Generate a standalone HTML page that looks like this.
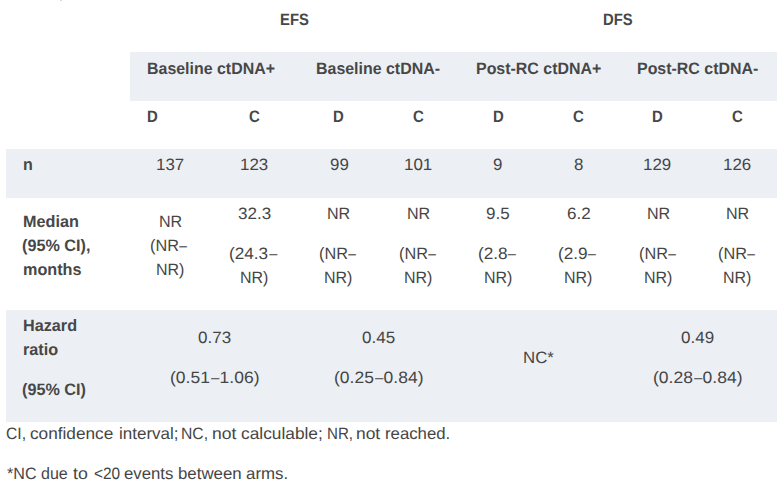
<!DOCTYPE html>
<html lang="en"><head><meta charset="utf-8"><title>EFS and DFS by ctDNA status</title>
<style>
html,body{margin:0;padding:0;background:#fff;}
body{width:784px;height:488px;overflow:hidden;position:relative;font-family:"Liberation Sans",Arial,sans-serif;font-size:16.5px;line-height:24px;color:#454545;text-rendering:geometricPrecision;}
table{position:absolute;left:6px;top:0;width:771px;border-collapse:collapse;table-layout:fixed;}
td,th{padding:0;margin:0;position:relative;vertical-align:top;font-weight:normal;text-align:left;}
.sh{background:#ecf0f5;}
.l{position:absolute;display:block;white-space:nowrap;height:24px;transform-origin:0 50%;}
.b{font-weight:bold;color:#474747;}
.fn{margin:0;position:absolute;left:0;width:784px;height:24px;white-space:nowrap;}
.d{display:inline-block;transform:scaleX(.85);}
.dot{position:absolute;left:60px;top:0;width:2px;height:1px;background:#d3dae3;}
</style></head><body>
<div class="dot"></div>
<table><colgroup>
<col style="width:124px">
<col style="width:78px">
<col style="width:91px">
<col style="width:78px">
<col style="width:82px">
<col style="width:78px">
<col style="width:83px">
<col style="width:76px">
<col style="width:81px">
</colgroup><tbody>
<tr style="height:52px">
<th></th>
<th colspan="4"><div class="l b" id="EFS" style="left:149.75px;top:8px;transform:scaleX(0.8990)">EFS</div></th>
<th colspan="4"><div class="l b" id="DFS" style="left:143.75px;top:8px;transform:scaleX(0.8990)">DFS</div></th>
</tr>
<tr style="height:49px">
<th></th>
<th colspan="2" class="sh"><div class="l b" id="h1" style="left:16.75px;top:5px;transform:scaleX(0.9660)">Baseline ctDNA+</div></th>
<th colspan="2" class="sh"><div class="l b" id="h2" style="left:16.75px;top:5px;transform:scaleX(0.9660)">Baseline ctDNA-</div></th>
<th colspan="2" class="sh"><div class="l b" id="h3" style="left:16.75px;top:5px;transform:scaleX(0.9660)">Post-RC ctDNA+</div></th>
<th colspan="2" class="sh"><div class="l b" id="h4" style="left:16.50px;top:5px;transform:scaleX(0.9660)">Post-RC ctDNA-</div></th>
</tr>
<tr style="height:48px">
<th></th>
<th><div class="l b" id="D1" style="left:16.50px;top:4px;transform:scaleX(0.9040)">D</div></th>
<th><div class="l b" id="C1" style="left:40.50px;top:4px;transform:scaleX(0.9040)">C</div></th>
<th><div class="l b" id="D2" style="left:33.75px;top:4px;transform:scaleX(0.9040)">D</div></th>
<th><div class="l b" id="C2" style="left:35.75px;top:4px;transform:scaleX(0.9040)">C</div></th>
<th><div class="l b" id="D3" style="left:33.75px;top:4px;transform:scaleX(0.9040)">D</div></th>
<th><div class="l b" id="C3" style="left:35.75px;top:4px;transform:scaleX(0.9040)">C</div></th>
<th><div class="l b" id="D4" style="left:32.25px;top:4px;transform:scaleX(0.9040)">D</div></th>
<th><div class="l b" id="C4" style="left:35.50px;top:4px;transform:scaleX(0.9040)">C</div></th>
</tr>
<tr style="height:49px" class="sh">
<th><div class="l b" id="n" style="left:16.75px;top:4px;transform:scaleX(0.9720)">n</div></th>
<td><div class="l" id="n1" style="left:25.50px;top:4px;transform:scaleX(1.0240)">137</div></td>
<td><div class="l" id="n2" style="left:31.50px;top:4px;transform:scaleX(1.0240)">123</div></td>
<td><div class="l" id="n3" style="left:30.75px;top:4px;transform:scaleX(1.0240)">99</div></td>
<td><div class="l" id="n4" style="left:26.50px;top:4px;transform:scaleX(1.0240)">101</div></td>
<td><div class="l" id="n5" style="left:34.25px;top:4px;transform:scaleX(1.0240)">9</div></td>
<td><div class="l" id="n6" style="left:36.50px;top:4px;transform:scaleX(1.0240)">8</div></td>
<td><div class="l" id="n7" style="left:23.25px;top:4px;transform:scaleX(1.0240)">129</div></td>
<td><div class="l" id="n8" style="left:27.25px;top:4px;transform:scaleX(1.0240)">126</div></td>
</tr>
<tr style="height:112px">
<th><div class="l b" id="Median" style="left:17.00px;top:12px;transform:scaleX(0.9820)">Median</div><div class="l b" id="ci1" style="left:16.25px;top:36px;transform:scaleX(0.9820)">(95% CI),</div><div class="l b" id="months" style="left:17.00px;top:60px;transform:scaleX(0.9820)">months</div></th>
<td><div class="l" id="m1a" style="left:28.50px;top:12px;transform:scaleX(0.9740)">NR</div><div class="l" id="m1b" style="left:20.00px;top:36px;transform:scaleX(0.9840)">(NR<span class="d">–</span></div><div class="l" id="m1c" style="left:25.50px;top:60px;transform:scaleX(0.9670)">NR)</div></td>
<td><div class="l" id="m2a" style="left:29.75px;top:4px;transform:scaleX(1.0320)">32.3</div><div class="l" id="m2b" style="left:21.00px;top:44px;transform:scaleX(1.0410)">(24.3<span class="d">–</span></div><div class="l" id="m2c" style="left:32.25px;top:68px;transform:scaleX(0.9670)">NR)</div></td>
<td><div class="l" id="m3a" style="left:28.25px;top:4px;transform:scaleX(0.9740)">NR</div><div class="l" id="m3b" style="left:20.00px;top:44px;transform:scaleX(0.9840)">(NR<span class="d">–</span></div><div class="l" id="m3c" style="left:25.25px;top:68px;transform:scaleX(0.9670)">NR)</div></td>
<td><div class="l" id="m4a" style="left:29.75px;top:4px;transform:scaleX(0.9740)">NR</div><div class="l" id="m4b" style="left:21.75px;top:44px;transform:scaleX(0.9840)">(NR<span class="d">–</span></div><div class="l" id="m4c" style="left:27.00px;top:68px;transform:scaleX(0.9670)">NR)</div></td>
<td><div class="l" id="m5a" style="left:27.25px;top:4px;transform:scaleX(1.0320)">9.5</div><div class="l" id="m5b" style="left:18.50px;top:44px;transform:scaleX(1.0410)">(2.8<span class="d">–</span></div><div class="l" id="m5c" style="left:24.75px;top:68px;transform:scaleX(0.9670)">NR)</div></td>
<td><div class="l" id="m6a" style="left:29.50px;top:4px;transform:scaleX(1.0320)">6.2</div><div class="l" id="m6b" style="left:21.25px;top:44px;transform:scaleX(1.0410)">(2.9<span class="d">–</span></div><div class="l" id="m6c" style="left:26.75px;top:68px;transform:scaleX(0.9670)">NR)</div></td>
<td><div class="l" id="m7a" style="left:26.75px;top:4px;transform:scaleX(0.9740)">NR</div><div class="l" id="m7b" style="left:18.50px;top:44px;transform:scaleX(0.9840)">(NR<span class="d">–</span></div><div class="l" id="m7c" style="left:23.50px;top:68px;transform:scaleX(0.9670)">NR)</div></td>
<td><div class="l" id="m8a" style="left:30.00px;top:4px;transform:scaleX(0.9740)">NR</div><div class="l" id="m8b" style="left:22.00px;top:44px;transform:scaleX(0.9840)">(NR<span class="d">–</span></div><div class="l" id="m8c" style="left:27.00px;top:68px;transform:scaleX(0.9670)">NR)</div></td>
</tr>
<tr style="height:112px" class="sh">
<th><div class="l b" id="Hazard" style="left:16.50px;top:4px;transform:scaleX(0.9820)">Hazard</div><div class="l b" id="ratio" style="left:16.50px;top:28px;transform:scaleX(0.9820)">ratio</div><div class="l b" id="ci2" style="left:16.25px;top:68px;transform:scaleX(0.9820)">(95% CI)</div></th>
<td colspan="2"><div class="l" id="h_a1" style="left:67.75px;top:16px;transform:scaleX(1.0320)">0.73</div><div class="l" id="h_a2" style="left:39.75px;top:56px;transform:scaleX(1.0600)">(0.51<span class="d">–</span>1.06)</div></td>
<td colspan="2"><div class="l" id="h_b1" style="left:62.75px;top:16px;transform:scaleX(1.0320)">0.45</div><div class="l" id="h_b2" style="left:34.50px;top:56px;transform:scaleX(1.0600)">(0.25<span class="d">–</span>0.84)</div></td>
<td colspan="2"><div class="l" id="h_c1" style="left:64.00px;top:36px;transform:scaleX(1.0200)">NC*</div></td>
<td colspan="2"><div class="l" id="h_d1" style="left:61.00px;top:16px;transform:scaleX(1.0320)">0.49</div><div class="l" id="h_d2" style="left:32.75px;top:56px;transform:scaleX(1.0600)">(0.28<span class="d">–</span>0.84)</div></td>
</tr>
</tbody></table>
<p class="fn" style="top:422px">
<span class="l" id="fn1_0" style="left:6.25px;top:0;transform:scaleX(0.9500)">CI, </span>
<span class="l" id="fn1_1" style="left:29.75px;top:0;transform:scaleX(1.0430)">confidence </span>
<span class="l" id="fn1_2" style="left:118.50px;top:0;transform:scaleX(1.0300)">interval; </span>
<span class="l" id="fn1_3" style="left:181.25px;top:0;transform:scaleX(0.9500)">NC, </span>
<span class="l" id="fn1_4" style="left:211.50px;top:0;transform:scaleX(1.0600)">not </span>
<span class="l" id="fn1_5" style="left:240.50px;top:0;transform:scaleX(1.0490)">calculable; </span>
<span class="l" id="fn1_6" style="left:326.75px;top:0;transform:scaleX(0.9140)">NR, </span>
<span class="l" id="fn1_7" style="left:355.75px;top:0;transform:scaleX(1.0550)">not </span>
<span class="l" id="fn1_8" style="left:384.75px;top:0;transform:scaleX(1.0160)">reached.</span>
</p>
<p class="fn" style="top:462px">
<span class="l" id="fn2_0" style="left:6.50px;top:0;transform:scaleX(0.9760)">*NC </span>
<span class="l" id="fn2_1" style="left:40.50px;top:0;transform:scaleX(0.9730)">due </span>
<span class="l" id="fn2_2" style="left:72.75px;top:0;transform:scaleX(1.0750)">to </span>
<span class="l" id="fn2_3" style="left:93.50px;top:0;transform:scaleX(0.9350)">&lt;20 </span>
<span class="l" id="fn2_4" style="left:123.75px;top:0;transform:scaleX(1.0160)">events </span>
<span class="l" id="fn2_5" style="left:177.75px;top:0;transform:scaleX(1.0200)">between </span>
<span class="l" id="fn2_6" style="left:246.00px;top:0;transform:scaleX(1.0220)">arms.</span>
</p>
</body></html>
